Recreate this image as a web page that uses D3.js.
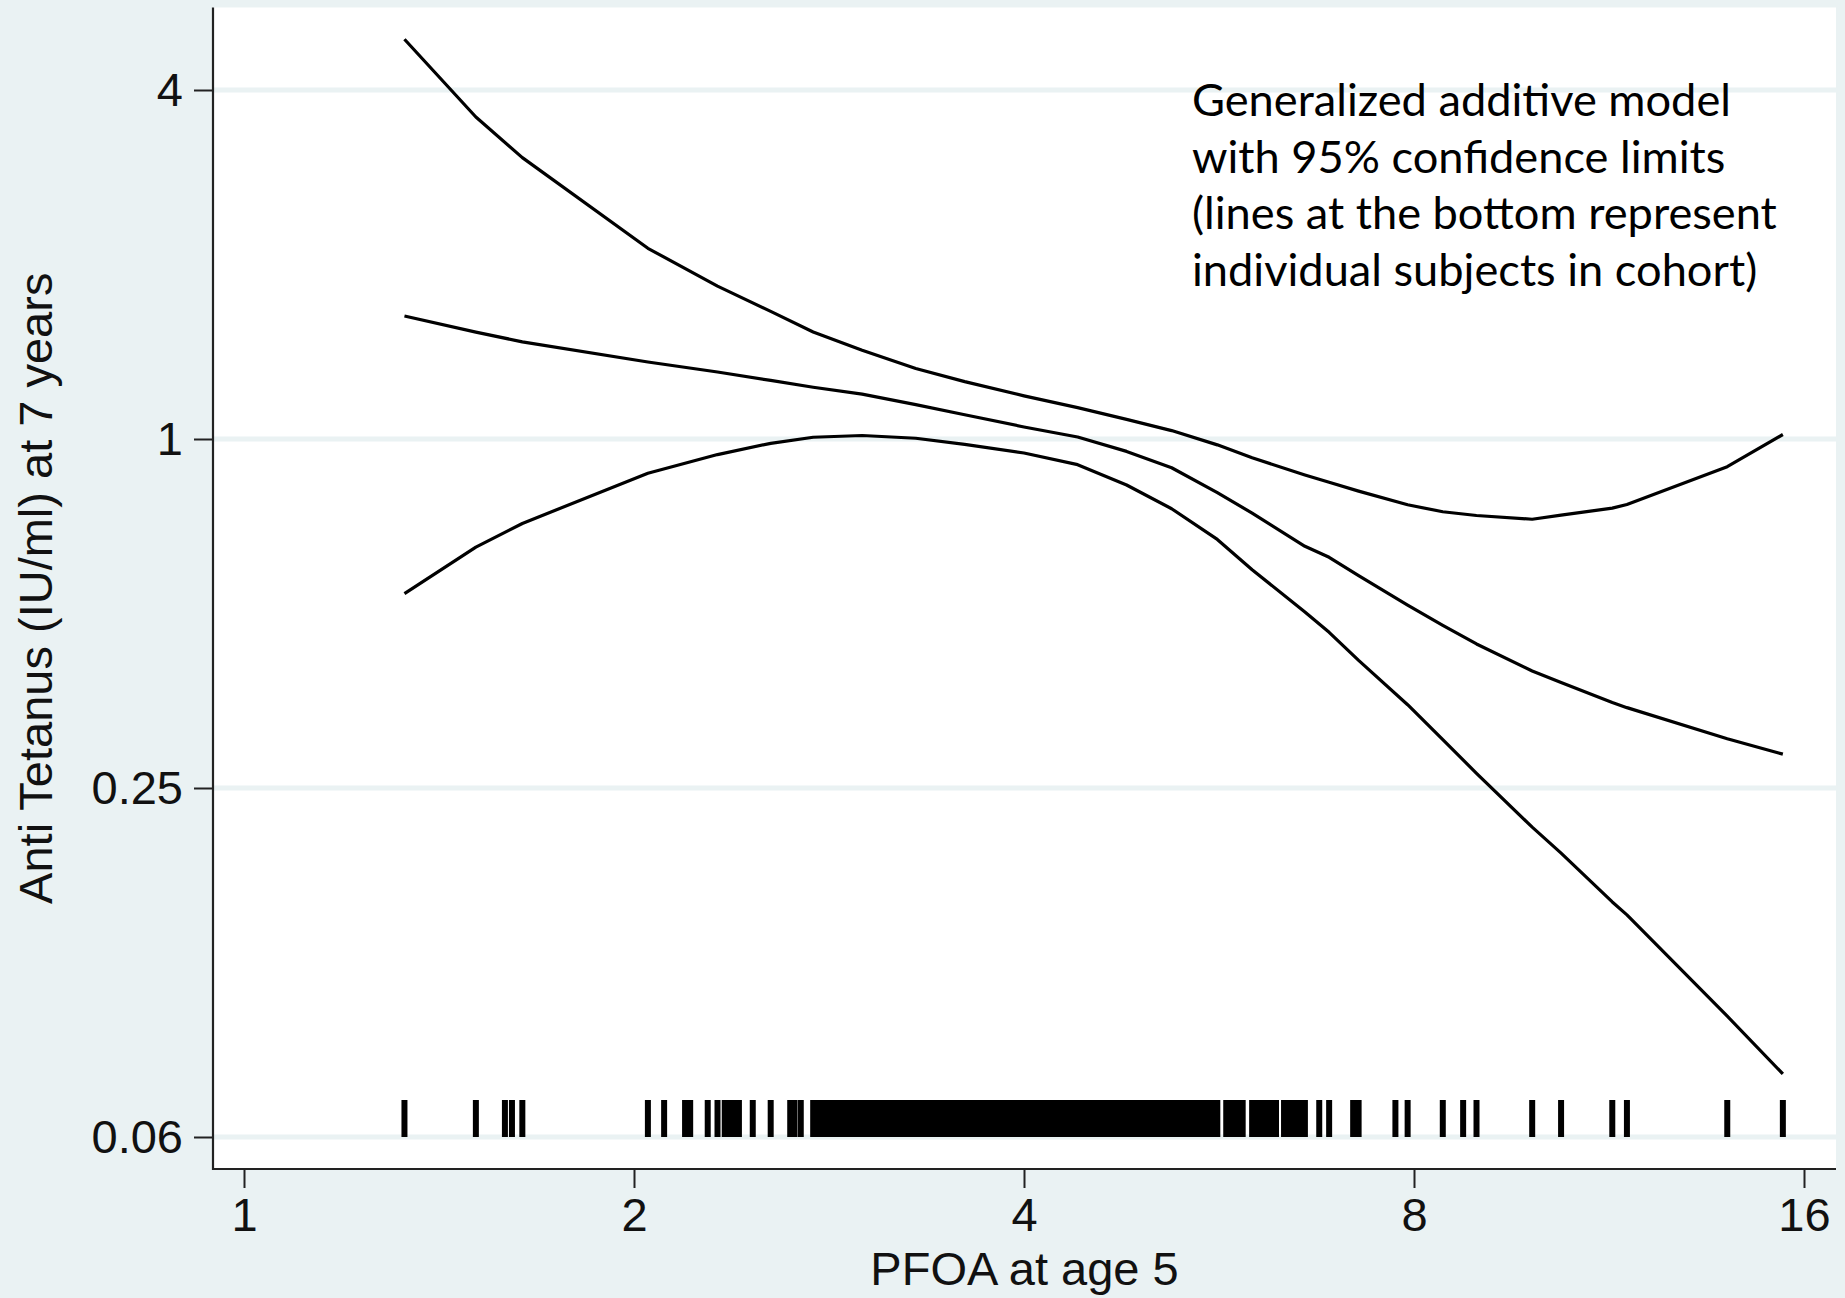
<!DOCTYPE html>
<html>
<head>
<meta charset="utf-8">
<script src="https://cdn.jsdelivr.net/npm/d3@7"></script>
<style>
  html, body { margin: 0; padding: 0; background: #eaf2f3; }
  svg { display: block; }
</style>
</head>
<body>
<svg id="chart" width="1845" height="1298"></svg>
<script>
// ---------- DATA ----------
const xTickValues = [1, 2, 4, 8, 16];
const xTickLabels = ["1", "2", "4", "8", "16"];
const yTickValues = [4, 1, 0.25, 0.0625];
const yTickLabels = ["4", "1", "0.25", "0.06"];

const xTitle = "PFOA at age 5";
const yTitle = "Anti Tetanus (IU/ml) at 7 years";
const noteLines = [
  "Generalized additive model",
  "with 95% confidence limits",
  "(lines at the bottom represent",
  "individual subjects in cohort)"
];

// PFOA values where the fitted curves are evaluated
const curvePFOA = [1.33, 1.51, 1.64, 2.05, 2.32, 2.55, 2.75, 3.0, 3.3, 3.6, 4.0, 4.4, 4.8, 5.2,
  5.64, 6.0, 6.59, 6.88, 7.25, 7.91, 8.42, 8.94, 9.87, 10.39, 11.38, 11.68, 13.96, 15.41];
const upperCI = [4.894, 3.593, 3.058, 2.133, 1.835, 1.660, 1.530, 1.423, 1.323, 1.256, 1.187, 1.133, 1.081, 1.034,
  0.977, 0.928, 0.867, 0.842, 0.813, 0.770, 0.749, 0.738, 0.727, 0.739, 0.760, 0.771, 0.896, 1.018];
const fitted = [1.630, 1.529, 1.471, 1.358, 1.305, 1.262, 1.228, 1.195, 1.146, 1.101, 1.049, 1.008, 0.952, 0.892,
  0.808, 0.745, 0.653, 0.625, 0.581, 0.517, 0.477, 0.443, 0.398, 0.380, 0.351, 0.344, 0.304, 0.286];
const lowerCI = [0.541, 0.651, 0.715, 0.873, 0.940, 0.983, 1.007, 1.014, 1.003, 0.979, 0.946, 0.903, 0.833, 0.758,
  0.671, 0.595, 0.503, 0.464, 0.415, 0.348, 0.303, 0.265, 0.214, 0.193, 0.159, 0.151, 0.101, 0.0803];

// individual subjects (rug)
const rugPFOA = [
  1.33, 1.51, 1.59, 1.61, 1.64, 2.05, 2.11, 2.19, 2.21, 2.28, 2.32, 2.35, 2.37, 2.39, 2.41, 2.47, 2.55,
  2.64, 2.66, 2.69,
  2.75, 2.77, 2.79, 2.81, 2.83, 2.85, 2.87, 2.89, 2.91, 2.93, 2.95, 2.97, 2.99,
  3.01, 3.03, 3.05, 3.07, 3.09, 3.11, 3.13, 3.15, 3.17, 3.19, 3.21, 3.23, 3.25, 3.27, 3.29,
  3.31, 3.33, 3.35, 3.37, 3.39, 3.41, 3.43, 3.45, 3.47, 3.49, 3.51, 3.53, 3.55, 3.57, 3.59,
  3.61, 3.63, 3.65, 3.67, 3.69, 3.71, 3.73, 3.75, 3.77, 3.79, 3.81, 3.83, 3.85, 3.87, 3.89,
  3.91, 3.93, 3.95, 3.97, 3.99,
  4.02, 4.05, 4.08, 4.11, 4.14, 4.17, 4.20, 4.23, 4.26, 4.29, 4.32, 4.35, 4.38, 4.41, 4.44,
  4.47, 4.50, 4.53, 4.56, 4.59, 4.62, 4.65, 4.68, 4.71, 4.74, 4.77, 4.80, 4.83, 4.86, 4.89,
  4.92, 4.95, 4.98,
  5.02, 5.06, 5.10, 5.14, 5.18, 5.22, 5.26, 5.30, 5.34, 5.38, 5.42, 5.46, 5.50, 5.54, 5.58,
  5.62, 5.64,
  5.73, 5.76, 5.80, 5.84, 5.88, 5.90,
  6.00, 6.04, 6.08, 6.12, 6.16, 6.20, 6.24, 6.26,
  6.35, 6.39, 6.43, 6.47, 6.51, 6.55, 6.59,
  6.76, 6.88, 7.18, 7.25, 7.74, 7.91, 8.42, 8.73, 8.94, 9.87, 10.39, 11.38, 11.68, 13.96, 15.41
];

// ---------- LAYOUT ----------
const W = 1845, H = 1298;
const plot = { left: 213, right: 1836, top: 7.5, bottom: 1169 };
const bg = "#eaf2f3";
const fontMain = "'Liberation Sans', Arial, Helvetica, sans-serif";

const svg = d3.select("#chart");

const x = d3.scaleLog().base(2).domain([1, 16]).range([244, 1804]);
const y = d3.scaleLog().base(2).domain([0.0625, 4]).range([1137, 90]);

// background
svg.append("rect").attr("x", 0).attr("y", 0).attr("width", W).attr("height", H).attr("fill", bg);
svg.append("rect")
  .attr("x", plot.left).attr("y", plot.top)
  .attr("width", plot.right - plot.left).attr("height", plot.bottom - plot.top)
  .attr("fill", "#ffffff");

// grid lines
svg.append("g").selectAll("line").data(yTickValues).join("line")
  .attr("x1", plot.left).attr("x2", plot.right)
  .attr("y1", d => y(d)).attr("y2", d => y(d))
  .attr("stroke", bg).attr("stroke-width", 5);

// rug
const rugH = 37;
svg.append("g").selectAll("line").data(rugPFOA).join("line")
  .attr("x1", d => x(d)).attr("x2", d => x(d))
  .attr("y1", y(0.0625) - rugH).attr("y2", y(0.0625))
  .attr("stroke", "#000").attr("stroke-width", 6);

// curves
const line = d3.line()
  .x(d => x(d[0]))
  .y(d => y(d[1]))
  .curve(d3.curveLinear);

[upperCI, fitted, lowerCI].forEach(series => {
  svg.append("path")
    .datum(curvePFOA.map((p, i) => [p, series[i]]))
    .attr("d", line)
    .attr("fill", "none")
    .attr("stroke", "#000")
    .attr("stroke-width", 3.2)
    .attr("stroke-linejoin", "round");
});

// axes
const yAxis = d3.axisLeft(y)
  .tickValues(yTickValues)
  .tickFormat((d, i) => yTickLabels[i])
  .tickSize(19).tickSizeOuter(0).tickPadding(11);
const gy = svg.append("g").attr("transform", `translate(${plot.left},0)`).call(yAxis);

const xAxis = d3.axisBottom(x)
  .tickValues(xTickValues)
  .tickFormat((d, i) => xTickLabels[i])
  .tickSize(19).tickSizeOuter(0).tickPadding(10);
const gx = svg.append("g").attr("transform", `translate(0,${plot.bottom})`).call(xAxis);

[gx, gy].forEach(g => {
  g.select(".domain").remove();
  g.selectAll(".tick line").attr("stroke", "#222").attr("stroke-width", 2);
  g.selectAll(".tick text")
    .attr("fill", "#111")
    .style("font-family", fontMain)
    .style("font-size", "47px");
});

// axis lines (full plot-region edges)
svg.append("line")
  .attr("x1", plot.left).attr("x2", plot.left)
  .attr("y1", plot.top).attr("y2", plot.bottom + 1)
  .attr("stroke", "#222").attr("stroke-width", 2.2);
svg.append("line")
  .attr("x1", plot.left - 1).attr("x2", plot.right)
  .attr("y1", plot.bottom).attr("y2", plot.bottom)
  .attr("stroke", "#222").attr("stroke-width", 2.2);

// axis titles
svg.append("text")
  .attr("x", (plot.left + plot.right) / 2)
  .attr("y", 1285)
  .attr("text-anchor", "middle")
  .attr("fill", "#111")
  .style("font-family", fontMain)
  .style("font-size", "47px")
  .text(xTitle);

svg.append("text")
  .attr("transform", `translate(52,${(plot.top + plot.bottom) / 2}) rotate(-90)`)
  .attr("text-anchor", "middle")
  .attr("fill", "#111")
  .style("font-family", fontMain)
  .style("font-size", "47px")
  .text(yTitle);

// annotation
const note = svg.append("g");
const noteTexts = note.selectAll("text").data(noteLines).join("text")
  .attr("x", 1192)
  .attr("y", (d, i) => 116 + i * 56.7)
  .attr("fill", "#000")
  .style("font-family", "Lato, 'Open Sans', sans-serif")
  .style("font-size", "48px")
  .text(d => d);
// fit the widest line to the reference width
let maxW = 0;
noteTexts.each(function () { maxW = Math.max(maxW, this.getComputedTextLength()); });
const fitted48 = 48 * 585 / maxW;
noteTexts.style("font-size", fitted48.toFixed(2) + "px");
</script>
</body>
</html>
